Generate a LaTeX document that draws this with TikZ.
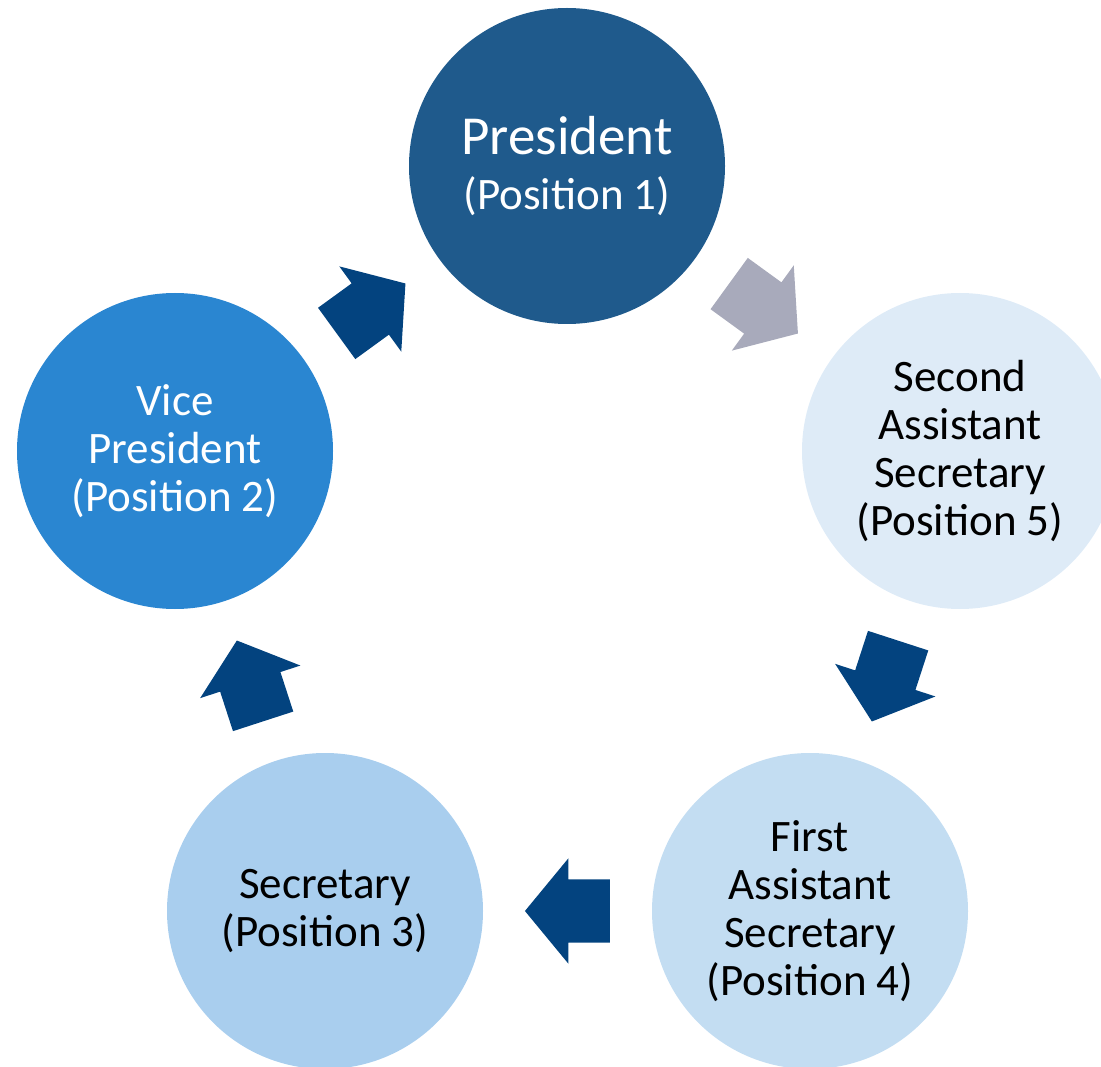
\documentclass[tikz,border=0pt]{standalone}
\usepackage{fontspec}
\setmainfont{Carlito}
\usetikzlibrary{shapes.arrows,calc}
\definecolor{presblue}{HTML}{1F5A8C}
\definecolor{viceblue}{HTML}{2A86D1}
\definecolor{secblue}{HTML}{A9CEEE}
\definecolor{firstblue}{HTML}{C3DDF2}
\definecolor{secondblue}{HTML}{DEEBF7}
\definecolor{arrowblue}{HTML}{03437F}
\definecolor{arrowgray}{HTML}{A8AABB}

\begin{document}
\begin{tikzpicture}[x=1pt, y=-1pt,
		post/.style = {circle, minimum size=316pt, inner sep=0pt, align=center, font=\fontsize{45}{48}\selectfont},
		turn/.style = {single arrow, fill=arrowblue, minimum height=85pt, inner xsep=0pt, inner ysep=31.5pt,
			single arrow head extend=21pt, single arrow tip angle=101}]
		\useasboundingbox (0,0) rectangle (1101,1067);
		\clip (0,0) rectangle (1101,1067);
		\node[post, fill=presblue, text=white] (pres) at (567,166) {{\fontsize{55}{58}\selectfont President}\\[7pt](Position 1)};
		\node[post, fill=secondblue] (second) at (960,451) {Second\\Assistant\\Secretary\\(Position 5)};
		\node[post, fill=firstblue] (first) at (810,911) {First\\Assistant\\Secretary\\(Position 4)};
		\node[post, fill=secblue] (sec) at (325,911) {Secretary\\(Position 3)};
		\node[post, fill=viceblue, text=white] (vice) at (175,451) {Vice\\President\\(Position 2)};
		\node[turn, rotate=36] (a21) at ($(vice)!0.5!(pres)!13pt!(vice)$) {};
		\node[turn, fill=arrowgray, rotate=-36] (a15) at ($(pres)!0.5!(second)!13pt!(pres)$) {};
		\node[turn, rotate=-108] (a54) at ($(second)!0.5!(first)!13pt!(second)$) {};
		\node[turn, rotate=180] (a43) at ($(first)!0.5!(sec)!13pt!(first)$) {};
		\node[turn, rotate=108] (a32) at ($(sec)!0.5!(vice)!13pt!(sec)$) {};
	\end{tikzpicture}
\end{document}
